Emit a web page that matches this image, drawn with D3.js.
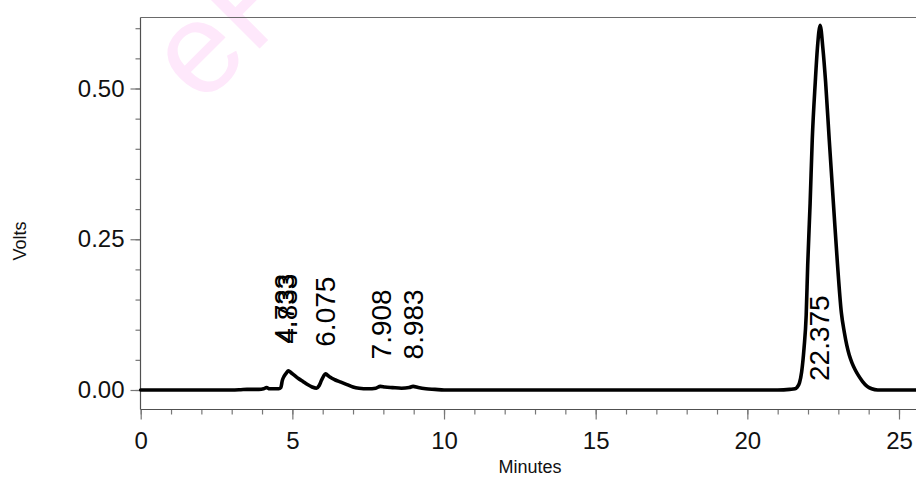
<!DOCTYPE html>
<html>
<head>
<meta charset="utf-8">
<script src="https://cdn.jsdelivr.net/npm/d3@7"></script>
<style>
  html, body { margin: 0; padding: 0; background: #fff; }
  svg { display: block; }
  text { font-family: "Liberation Sans", Arial, sans-serif; }
</style>
</head>
<body>
<svg id="chart" width="916" height="479"></svg>
<script>
// Detector trace: retention time (minutes) and signal (volts)
const times = [
  0, 1.0, 2.0, 3.0, 3.3, 3.5, 3.9, 4.05, 4.15, 4.25, 4.4, 4.55,
  4.62, 4.67, 4.73, 4.80, 4.87, 4.95, 5.05, 5.2, 5.35, 5.5, 5.65, 5.8,
  5.88, 5.96, 6.03, 6.09, 6.15, 6.25, 6.4, 6.6, 6.8, 7.0, 7.2, 7.5,
  7.75, 7.9, 8.05, 8.3, 8.6, 8.85, 8.98, 9.15, 9.4, 9.7, 10.0, 12.0,
  15.0, 18.0, 21.0, 21.4, 21.57, 21.63, 21.72, 21.79, 21.87, 21.94, 21.99, 22.07,
  22.14, 22.24, 22.31, 22.40, 22.49, 22.58, 22.70, 22.85, 22.97, 23.10, 23.20, 23.28,
  23.36, 23.45, 23.55, 23.65, 23.80, 23.95, 24.10, 24.3, 25.6
];
const volts = [
  0, 0, 0, 0, 0.0005, 0.001, 0.001, 0.002, 0.004, 0.002, 0.002, 0.002,
  0.004, 0.016, 0.023, 0.028, 0.032, 0.029, 0.025, 0.019, 0.014, 0.009, 0.005, 0.003,
  0.007, 0.016, 0.023, 0.027, 0.025, 0.021, 0.017, 0.013, 0.009, 0.005, 0.003, 0.002,
  0.003, 0.006, 0.005, 0.004, 0.003, 0.004, 0.006, 0.004, 0.002, 0.001, 0, 0,
  0, 0, 0, 0.001, 0.002, 0.004, 0.012, 0.030, 0.070, 0.124, 0.207, 0.310,
  0.415, 0.511, 0.567, 0.605, 0.567, 0.511, 0.415, 0.300, 0.210, 0.128, 0.095, 0.074,
  0.058, 0.045, 0.034, 0.025, 0.014, 0.006, 0.002, 0, 0
];

// Integrated peak retention times (labels)
const peakTimes = [4.733, 4.833, 6.075, 7.908, 8.983, 22.375];

// Axis ticks
const xMajorTicks = [0, 5, 10, 15, 20, 25];
const xMinorTicks = d3.range(0, 26, 1);
const yMajorTicks = [0, 0.25, 0.5];
const yMinorTicks = [0, 0.05, 0.10, 0.15, 0.20, 0.25, 0.30, 0.35, 0.40, 0.45, 0.50, 0.55, 0.60];

const xTitle = "Minutes";
const yTitle = "Volts";
const watermark = "eF";

const W = 916, H = 479;
const frame = { left: 140.5, top: 17.5, bottom: 409.5, right: W };

const svg = d3.select("#chart");

const x = d3.scaleLinear().domain([0, 25]).range([140.7, 899]);
const y = d3.scaleLinear().domain([0, 0.5]).range([390, 88.5]);

// faint watermark behind the plot
svg.append("text")
  .attr("transform", "translate(201,107) rotate(-45)")
  .attr("font-size", 130)
  .attr("fill", "#fee8fb")
  .text(watermark);

// frame: top border, left and bottom axis lines
const axisColor = "#505050";
svg.append("line")
  .attr("x1", frame.left).attr("x2", frame.right)
  .attr("y1", frame.top).attr("y2", frame.top)
  .attr("stroke", "#6a6a6a").attr("stroke-width", 1.2);

// Y axis
const yAxisMajor = d3.axisLeft(y).tickValues(yMajorTicks).tickSize(10).tickPadding(6)
  .tickFormat(d3.format(".2f"));
const yAxisMinor = d3.axisLeft(y).tickValues(yMinorTicks).tickSize(5).tickFormat("");

const gyMinor = svg.append("g").attr("transform", `translate(${frame.left},0)`).call(yAxisMinor);
const gy = svg.append("g").attr("transform", `translate(${frame.left},0)`).call(yAxisMajor);
[gy, gyMinor].forEach(g => {
  g.select(".domain").remove();
  g.selectAll(".tick line").attr("stroke", "#777").attr("stroke-width", 1.2);
});
gy.selectAll(".tick text")
  .attr("font-size", 24).attr("fill", "#111")
  .attr("font-family", "Liberation Sans, Arial, sans-serif");

svg.append("line")
  .attr("x1", frame.left).attr("x2", frame.left)
  .attr("y1", frame.top).attr("y2", frame.bottom)
  .attr("stroke", axisColor).attr("stroke-width", 1.2);

// X axis
const xAxisMajor = d3.axisBottom(x).tickValues(xMajorTicks).tickSize(10).tickPadding(12)
  .tickFormat(d3.format("d"));
const xAxisMinor = d3.axisBottom(x).tickValues(xMinorTicks).tickSize(5).tickFormat("");

const gxMinor = svg.append("g").attr("transform", `translate(0,${frame.bottom})`).call(xAxisMinor);
const gx = svg.append("g").attr("transform", `translate(0,${frame.bottom})`).call(xAxisMajor);
[gx, gxMinor].forEach(g => {
  g.select(".domain").remove();
  g.selectAll(".tick line").attr("stroke", "#777").attr("stroke-width", 1.2);
});
gx.selectAll(".tick text")
  .attr("font-size", 24).attr("fill", "#111")
  .attr("font-family", "Liberation Sans, Arial, sans-serif");

svg.append("line")
  .attr("x1", frame.left).attr("x2", frame.right)
  .attr("y1", frame.bottom).attr("y2", frame.bottom)
  .attr("stroke", axisColor).attr("stroke-width", 1.2);

// Axis titles
svg.append("text")
  .attr("x", 530).attr("y", 473)
  .attr("text-anchor", "middle")
  .attr("font-size", 18).attr("fill", "#111")
  .text(xTitle);

svg.append("text")
  .attr("transform", "translate(26,241) rotate(-90)")
  .attr("text-anchor", "middle")
  .attr("font-size", 18).attr("fill", "#111")
  .text(yTitle);

// Chromatogram trace
const trace = times.map((t, i) => ({ t, v: volts[i] }));
const line = d3.line()
  .x(d => x(d.t))
  .y(d => y(d.v))
  .curve(d3.curveMonotoneX);

svg.append("path")
  .datum(trace)
  .attr("d", line)
  .attr("fill", "none")
  .attr("stroke", "#000")
  .attr("stroke-width", 3.6)
  .attr("stroke-linejoin", "round")
  .attr("stroke-linecap", "round");

// Peak labels: vertical text above the local maximum of the trace,
// dropped to the baseline when there is no room above the peak.
const labelSize = 28;
const fmt = d3.format(".3f");
peakTimes.forEach(rt => {
  const near = trace.filter(d => Math.abs(d.t - rt) <= 0.15);
  const top = d3.max(near, d => d.v);
  const label = svg.append("text")
    .attr("font-size", labelSize)
    .attr("fill", "#000")
    .attr("text-anchor", "start")
    .attr("dy", "0.36em")
    .text(fmt(rt));
  const len = label.node().getComputedTextLength();
  let start = y(top) - 27;
  if (start - len < frame.top) start = y(0) - 9;
  label.attr("transform", `translate(${x(rt)},${start}) rotate(-90)`);
});
</script>
</body>
</html>
